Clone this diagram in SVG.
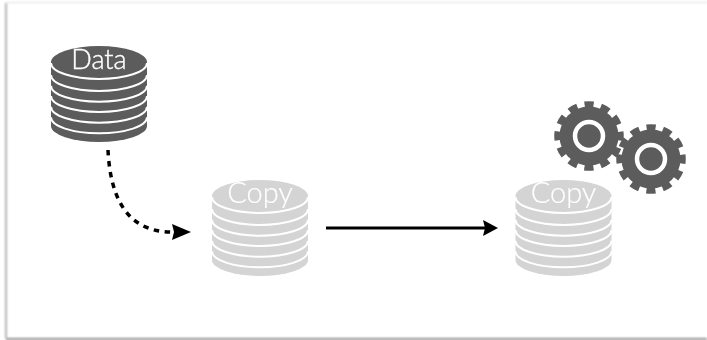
<svg xmlns="http://www.w3.org/2000/svg" width="707" height="340" viewBox="0 0 707 340">
<style>
.label{font-family:"Lato","Open Sans",sans-serif;font-weight:300;font-size:27px;fill:#fff;stroke:#fff;stroke-width:.4;text-anchor:middle}
.copy{font-size:29px;stroke-width:.2}
.band{fill:none;stroke:#fff;stroke-width:2}
.conn{fill:none;stroke:#000;stroke-width:3}
.dash{stroke-width:3.500;stroke-dasharray:5.500 5.500}
.head{fill:#000}
.dark{fill:#5c5c5c}
.light{fill:#d4d4d4}
.tooth{fill:none;stroke:#5c5c5c;stroke-width:7.500;stroke-dasharray:.55 .45;stroke-dashoffset:.27}
</style>
<defs>
<filter id="soft" x="-5%" y="-5%" width="110%" height="110%"><feGaussianBlur stdDeviation="1"/></filter>
<filter id="blur" x="-5%" y="-5%" width="110%" height="110%"><feGaussianBlur stdDeviation=".5"/></filter>
<g id="stack">
<path d="M-48,0 V64 A48,16 0 0 0 48,64 V0 A48,16 0 0 0 -48,0 Z"/>
<path class="band" d="M-48,1 A48,16 0 0 0 48,1"/>
<path class="band" d="M-48,13 A48,16 0 0 0 48,13"/>
<path class="band" d="M-48,23.700 A48,16 0 0 0 48,23.700"/>
<path class="band" d="M-48,34 A48,16 0 0 0 48,34"/>
<path class="band" d="M-48,44.700 A48,16 0 0 0 48,44.700"/>
<path class="band" d="M-48,55.300 A48,16 0 0 0 48,55.300"/>
</g>
<g id="gear">
<circle r="29.500" class="dark"/>
<circle r="31" class="tooth" pathLength="12"/>
<circle r="14" class="dark" stroke="#fff" stroke-width="4.500"/>
</g>
</defs>
<rect width="707" height="340" fill="#fff"/>
<g fill="none" stroke="#b4b4b4" filter="url(#soft)">
<path d="M6,338 V3" stroke-width="2"/>
<path d="M6,339 H707" stroke-width="2" stroke="#8c8c8c"/>
<path d="M6,2.500 H707" stroke-width="1.500" stroke="#e8e8e8"/>
</g>
<g id="connectors" filter="url(#blur)">
<path class="conn dash" d="M108,150 C110,190 122,232 172,232"/>
<path class="head" d="M172,224 L191,232 L172,240 L174,232 Z"/>
<path class="conn" d="M326,228 H490"/>
<path class="head" d="M483,220 L498,228 L483,236 L485,228 Z"/>
</g>
<g id="data" class="dark" filter="url(#blur)">
<use href="#stack" transform="translate(99,62)"/>
<text class="label" x="99" y="69">Data</text>
</g>
<g id="copy1" class="light" filter="url(#blur)">
<use href="#stack" transform="translate(260,196)"/>
<text class="label copy" x="260" y="203">Copy</text>
</g>
<g id="copy2" class="light" filter="url(#blur)">
<use href="#stack" transform="translate(563.500,196)"/>
<text class="label copy" x="563.500" y="203">Copy</text>
</g>
<g id="gear1" filter="url(#blur)"><use href="#gear" transform="translate(589,136)"/></g>
<g id="gear2" filter="url(#blur)"><use href="#gear" transform="translate(651,159)"/></g>
</svg>
